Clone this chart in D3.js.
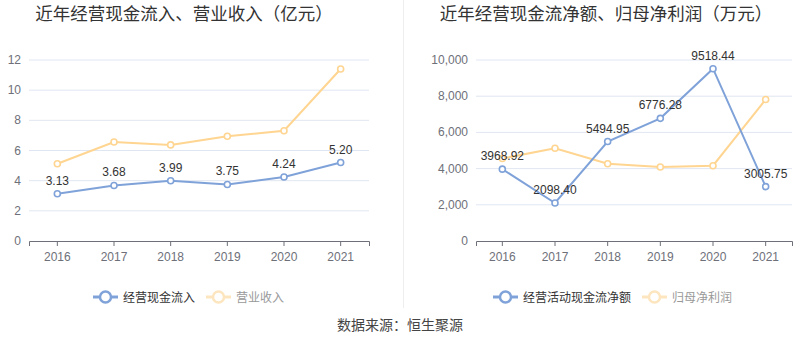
<!DOCTYPE html>
<html><head><meta charset="utf-8">
<script src="https://cdn.jsdelivr.net/npm/d3@7/dist/d3.min.js"></script>
<style>body{margin:0;background:#fff}svg{display:block;font-family:"Liberation Sans",Arial,"Noto Sans CJK SC",sans-serif}</style>
</head><body><svg id="c" width="800" height="358"></svg>
<script>
const years = ["2016","2017","2018","2019","2020","2021"];
const cashIn = [3.13,3.68,3.99,3.75,4.24,5.20];
const revenue = [5.12,6.56,6.37,6.94,7.31,11.40];
const leftTicks = [0,2,4,6,8,10,12];
const netCash = [3968.92,2098.40,5494.95,6776.28,9518.44,3005.75];
const netProfit = [4560,5127,4270,4085,4160,7820];
const rightTicks = [0,2000,4000,6000,8000,10000];

const BLUE = "#7fa2d9", ORANGE = "#ffd591", ORANGE_L = "#fde6bf";
const svg = d3.select("#c");
const cjk = '"Noto Sans CJK SC",sans-serif';

function panel(opt){
  const g = svg.append("g");
  const x = d3.scaleBand().domain(years).range([opt.x0,opt.x1]);
  const y = d3.scaleLinear().domain([0,opt.max]).range([241,60]);
  g.selectAll(".grid").data(opt.ticks.filter(t=>t>0)).join("line")
    .attr("x1",opt.x0).attr("x2",opt.x1).attr("y1",d=>y(d)).attr("y2",d=>y(d))
    .attr("stroke","#e0e6f1").attr("stroke-width",1);
  g.selectAll(".yl").data(opt.ticks).join("text")
    .attr("x",opt.x0-8).attr("y",d=>y(d)+4).attr("text-anchor","end")
    .attr("font-size",12).attr("fill","#6e7079").text(d=>opt.fmt(d));
  const ax = g.append("g").attr("transform","translate(0,241)")
    .call(d3.axisBottom(x).tickSize(5).tickPadding(6));
  ax.select(".domain").attr("stroke","#6e7079");
  ax.selectAll(".tick line").attr("stroke","#6e7079");
  ax.selectAll(".tick text").attr("font-size",12).attr("fill","#6e7079")
    .attr("font-family",'"Liberation Sans",Arial,sans-serif');
  const cx = d=>x(d)+x.bandwidth()/2;
  const line = d3.line().x((d,i)=>cx(years[i])).y(d=>y(d));
  [[opt.s2,ORANGE],[opt.s1,BLUE]].forEach(([s,c])=>{
    g.append("path").attr("d",line(s)).attr("fill","none").attr("stroke",c).attr("stroke-width",2);
    g.selectAll(null).data(s).join("circle").attr("cx",(d,i)=>cx(years[i])).attr("cy",d=>y(d))
      .attr("r",3).attr("fill","#fff").attr("stroke",c).attr("stroke-width",1.6);
  });
  g.selectAll(".lab").data(opt.s1).join("text")
    .attr("x",(d,i)=>cx(years[i])).attr("y",d=>y(d)-9).attr("text-anchor","middle")
    .attr("font-size",12).attr("fill","#333").text(d=>d.toFixed(2));
  svg.append("text").attr("x",opt.tx).attr("y",20).attr("text-anchor","middle")
    .attr("font-size",17.5).attr("fill","#333").attr("font-family",cjk).text(opt.title);
  const lg = [[opt.l1,BLUE,"#333",opt.lx1],[opt.l2,ORANGE_L,"#999",opt.lx2]];
  lg.forEach(([t,c,tc,lx])=>{
    svg.append("line").attr("x1",lx).attr("x2",lx+25).attr("y1",297).attr("y2",297)
      .attr("stroke",c).attr("stroke-width",3);
    svg.append("circle").attr("cx",lx+12.5).attr("cy",297).attr("r",5.5)
      .attr("fill","#fff").attr("stroke",c).attr("stroke-width",2.5);
    svg.append("text").attr("x",lx+30).attr("y",301.5).attr("font-size",12)
      .attr("fill",tc).attr("font-family",cjk).text(t);
  });
}

panel({x0:29,x1:369,max:12,ticks:leftTicks,fmt:d=>d,s1:cashIn,s2:revenue,
  title:"近年经营现金流入、营业收入（亿元）",tx:184,
  l1:"经营现金流入",l2:"营业收入",lx1:93,lx2:206});
panel({x0:476,x1:792,max:10000,ticks:rightTicks,fmt:d3.format(","),s1:netCash,s2:netProfit,
  title:"近年经营现金流净额、归母净利润（万元）",tx:606,
  l1:"经营活动现金流净额",l2:"归母净利润",lx1:493,lx2:642});

svg.append("line").attr("x1",403.5).attr("x2",403.5).attr("y1",0).attr("y2",308)
  .attr("stroke","#eeeeee").attr("stroke-width",1);
svg.append("text").attr("x",400).attr("y",330).attr("text-anchor","middle")
  .attr("font-size",14).attr("fill","#444").attr("font-family",cjk).text("数据来源：恒生聚源");
</script></body></html>
